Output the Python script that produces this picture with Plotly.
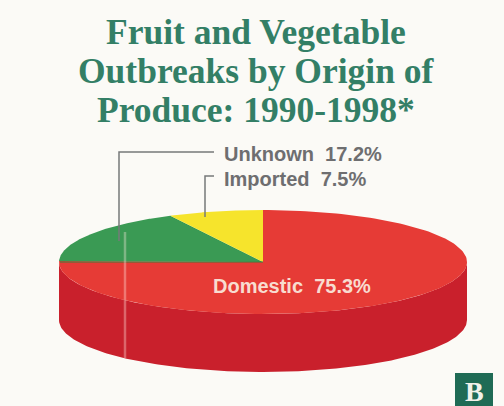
import numpy as np
import plotly.graph_objects as go

# Values
labels = ['Domestic', 'Unknown', 'Imported']
shares = [75.3, 17.2, 7.5]
top_colors = ['#e63b36', '#3a9a54', '#f6e42c']
title_lines = ['Fruit and Vegetable', 'Outbreaks by Origin of', 'Produce: 1990-1998*']

# Pie geometry, in pixels of the 504x406 picture
CX, CY = 263, 262
RX, RY = 204, 52
DEPTH = 58

BG = '#fbfaf6'
TITLE_GREEN = '#337f66'
LABEL_GREY = '#6e6e70'
SIDE_RED = '#c9202c'


def ellipse_arc(start_deg, end_deg, cy=CY):
    """Points on the pie rim, angles clockwise from 12 o'clock"""
    t = np.radians(np.linspace(start_deg, end_deg, 181))
    return CX + RX * np.sin(t), cy - RY * np.cos(t)


fig = go.Figure()

# Side wall of the pie
x_low, y_low = ellipse_arc(90, 270, CY + DEPTH)
x_up, y_up = ellipse_arc(270, 90, CY)
fig.add_trace(go.Scatter(
    x=np.concatenate([x_low, x_up]),
    y=np.concatenate([y_low, y_up]),
    fill='toself', fillcolor=SIDE_RED, mode='lines', line=dict(width=0),
    hoverinfo='skip'
))

# Top surface, one wedge per share
start = 0
for label, share, color in zip(labels, shares, top_colors):
    end = start + share / sum(shares) * 360
    x_arc, y_arc = ellipse_arc(start, end)
    fig.add_trace(go.Scatter(
        x=np.concatenate([[CX], x_arc, [CX]]),
        y=np.concatenate([[CY], y_arc, [CY]]),
        fill='toself', fillcolor=color, mode='lines', line=dict(width=0),
        name=label, hoverinfo='skip'
    ))
    start = end

annotations = []

# Title
for line, y in zip(title_lines, [32, 71, 110]):
    annotations.append(dict(
        x=256, y=y, xref='x', yref='y', text=f'<b>{line}</b>', showarrow=False,
        font=dict(family='Liberation Serif', size=35.5, color=TITLE_GREEN)
    ))

# Slice labels
annotations.append(dict(
    x=222, y=154, xref='x', yref='y', xanchor='left', showarrow=False,
    text=f'<b>{labels[1]}  {shares[1]}%</b>',
    font=dict(family='Liberation Sans', size=20, color=LABEL_GREY)
))
annotations.append(dict(
    x=222, y=179, xref='x', yref='y', xanchor='left', showarrow=False,
    text=f'<b>{labels[2]}  {shares[2]}%</b>',
    font=dict(family='Liberation Sans', size=20, color=LABEL_GREY)
))
annotations.append(dict(
    x=291.5, y=286, xref='x', yref='y', showarrow=False,
    text=f'<b>{labels[0]}  {shares[0]}%</b>',
    font=dict(family='Liberation Sans', size=20, color='#f8dcd0')
))

# Corner badge letter
annotations.append(dict(
    x=474, y=391, xref='x', yref='y', text='<b>B</b>', showarrow=False,
    font=dict(family='Liberation Serif', size=28, color='#f2f2ea')
))

shapes = [
    # Leader lines
    dict(type='path', path='M 214 152 L 119 152 L 119 241',
         line=dict(color='#77797a', width=1.5)),
    dict(type='path', path='M 214 176 L 205 176 L 205 217',
         line=dict(color='#77797a', width=1.5)),
    # Dark edge along the bottom of the green wedge
    dict(type='line', x0=60, x1=263, y0=262, y1=262,
         line=dict(color='#3c7c3a', width=1)),
    # Pale crease in the printed page
    dict(type='line', x0=125, x1=125, y0=232, y1=358,
         line=dict(color='rgba(255,235,225,0.35)', width=2.5)),
    # Badge
    dict(type='rect', x0=455, x1=493, y0=373, y1=406,
         fillcolor='#1f6b55', line=dict(width=0)),
]

fig.update_layout(
    width=504,
    height=406,
    margin=dict(l=0, r=0, t=0, b=0),
    paper_bgcolor=BG,
    plot_bgcolor=BG,
    showlegend=False,
    annotations=annotations,
    shapes=shapes,
    xaxis=dict(range=[0, 504], visible=False, fixedrange=True),
    yaxis=dict(range=[406, 0], visible=False, fixedrange=True),
)

fig.write_html("out.html", config=dict(displayModeBar=False),
               post_script="document.body.style.margin='0';document.body.style.overflow='hidden';")
